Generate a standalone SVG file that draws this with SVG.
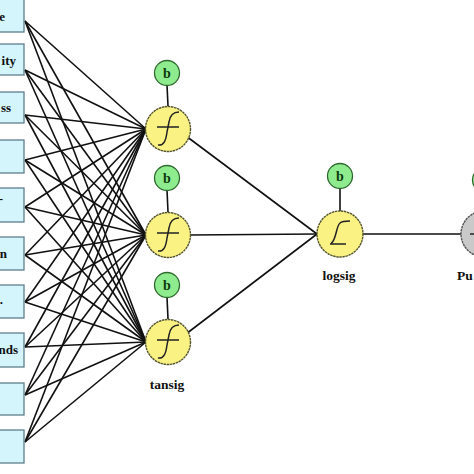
<svg xmlns="http://www.w3.org/2000/svg" width="474" height="474" viewBox="0 0 474 474">
<style>
.box{fill:#d3f5fb;stroke:#5f7f8c;stroke-width:1.3}
.in{font-family:"Liberation Serif",serif;font-weight:bold;font-size:13px;fill:#111;text-anchor:end}
.lbl{font-family:"Liberation Serif",serif;font-weight:bold;font-size:13.5px;fill:#111;text-anchor:middle}
.node{fill:#fbf284;stroke:#55552e;stroke-width:1.4;stroke-dasharray:2.5 0.6}
.out{fill:#c9c9c9;stroke:#555;stroke-width:1.4;stroke-dasharray:2.5 0.6}
.bias{fill:#8eec8e;stroke:#2f6b2f;stroke-width:1.3}
.b{font-family:"Liberation Serif",serif;font-weight:bold;font-size:14px;fill:#0d3a0d;text-anchor:middle}
.w{stroke:#111;stroke-width:1.6;fill:none}
.ic{stroke:#222;stroke-width:1.5;fill:none}
</style>
<rect width="474" height="474" fill="#fff"/>
<g id="connectors" class="w">
<g id="in-h1">
<line x1="25" y1="21" x2="146" y2="129"/><line x1="25" y1="70" x2="146" y2="129"/><line x1="25" y1="115" x2="146" y2="129"/><line x1="25" y1="160" x2="146" y2="129"/><line x1="25" y1="207" x2="146" y2="129"/><line x1="25" y1="255" x2="146" y2="129"/><line x1="25" y1="302" x2="146" y2="129"/><line x1="25" y1="347" x2="146" y2="129"/><line x1="25" y1="395" x2="146" y2="129"/><line x1="25" y1="442" x2="146" y2="129"/>
</g>
<g id="in-h2">
<line x1="25" y1="21" x2="146" y2="235"/><line x1="25" y1="70" x2="146" y2="235"/><line x1="25" y1="115" x2="146" y2="235"/><line x1="25" y1="160" x2="146" y2="235"/><line x1="25" y1="207" x2="146" y2="235"/><line x1="25" y1="255" x2="146" y2="235"/><line x1="25" y1="302" x2="146" y2="235"/><line x1="25" y1="347" x2="146" y2="235"/><line x1="25" y1="395" x2="146" y2="235"/><line x1="25" y1="442" x2="146" y2="235"/>
</g>
<g id="in-h3">
<line x1="25" y1="21" x2="146" y2="342"/><line x1="25" y1="70" x2="146" y2="342"/><line x1="25" y1="115" x2="146" y2="342"/><line x1="25" y1="160" x2="146" y2="342"/><line x1="25" y1="207" x2="146" y2="342"/><line x1="25" y1="255" x2="146" y2="342"/><line x1="25" y1="302" x2="146" y2="342"/><line x1="25" y1="347" x2="146" y2="342"/><line x1="25" y1="395" x2="146" y2="342"/><line x1="25" y1="442" x2="146" y2="342"/>
</g>
<line x1="186" y1="136" x2="317" y2="234"/>
<line x1="190" y1="235" x2="317" y2="234"/>
<line x1="186" y1="334" x2="317" y2="234"/>
<line x1="363" y1="234" x2="461" y2="234"/>
<line x1="167" y1="85" x2="168" y2="106"/>
<line x1="167" y1="190" x2="168" y2="212"/>
<line x1="167" y1="297" x2="168" y2="319"/>
<line x1="340" y1="188" x2="340" y2="211"/>
<line x1="485" y1="192" x2="485" y2="211"/>
</g>
<g id="inputs">
<g id="in1"><rect class="box" x="-5" y="-1" width="29" height="33"/><text class="in" x="5" y="21">e</text></g>
<g id="in2"><rect class="box" x="-5" y="44" width="29" height="31"/><text class="in" x="16" y="65">ity</text></g>
<g id="in3"><rect class="box" x="-5" y="92" width="29" height="31"/><text class="in" x="11" y="112">ss</text></g>
<g id="in4"><rect class="box" x="-5" y="140" width="29" height="33"/></g>
<g id="in5"><rect class="box" x="-5" y="188" width="29" height="34"/><text class="in" x="3" y="203">-</text></g>
<g id="in6"><rect class="box" x="-5" y="237" width="29" height="33"/><text class="in" x="7" y="258">n</text></g>
<g id="in7"><rect class="box" x="-5" y="285" width="29" height="33"/><text class="in" x="3" y="304" fill="#777">.</text></g>
<g id="in8"><rect class="box" x="-5" y="333" width="29" height="34"/><text class="in" x="18" y="354">nds</text></g>
<g id="in9"><rect class="box" x="-5" y="383" width="29" height="32"/></g>
<g id="in10"><rect class="box" x="-5" y="430" width="29" height="33"/></g>
</g>
<g id="h1">
<ellipse class="bias" cx="167" cy="73" rx="12.5" ry="12.5"/><text class="b" x="167" y="78">b</text>
<circle class="node" cx="168" cy="129" r="22.5"/>
<line class="ic" x1="157" y1="127" x2="179" y2="127"/>
<path class="ic" d="M158,145 C164,146 166,140 167,132 L169,122 C170,115 173,112 179,112"/>
</g>
<g id="h2">
<ellipse class="bias" cx="167" cy="178" rx="12.5" ry="12.5"/><text class="b" x="167" y="183">b</text>
<circle class="node" cx="168" cy="235" r="22.5"/>
<line class="ic" x1="157" y1="233" x2="179" y2="233"/>
<path class="ic" d="M158,251 C164,252 166,246 167,238 L169,228 C170,221 173,218 179,218"/>
</g>
<g id="h3">
<ellipse class="bias" cx="167" cy="285" rx="12.5" ry="12.5"/><text class="b" x="167" y="290">b</text>
<circle class="node" cx="168" cy="342" r="22.5"/>
<line class="ic" x1="157" y1="340" x2="179" y2="340"/>
<path class="ic" d="M158,358 C164,359 166,353 167,345 L169,335 C170,328 173,325 179,325"/>
<text class="lbl" x="167" y="389">tansig</text>
</g>
<g id="o1">
<ellipse class="bias" cx="340" cy="176" rx="12.5" ry="12.5"/><text class="b" x="340" y="181">b</text>
<circle class="node" cx="340" cy="234" r="23"/>
<path class="ic" d="M330,244 L346,244 M331,243 C336,242 336,226 340,223 C342,221 346,221 350,221"/>
<text class="lbl" x="339" y="280">logsig</text>
</g>
<g id="o2">
<ellipse class="bias" cx="485" cy="180" rx="12.5" ry="12.5"/>
<circle class="out" cx="484" cy="234" r="23"/>
<line class="ic" x1="470" y1="234" x2="474" y2="234"/>
<text class="lbl" x="457" y="280" style="text-anchor:start">Pu</text>
</g>
</svg>
